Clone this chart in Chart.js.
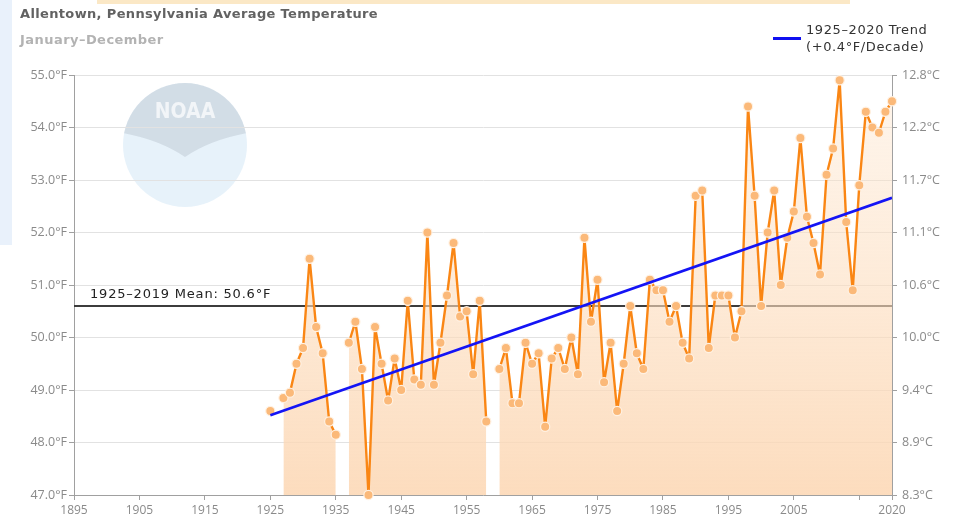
<!DOCTYPE html>
<html>
<head>
<meta charset="utf-8">
<script src="https://cdn.jsdelivr.net/npm/chart.js@4.4.1/dist/chart.umd.min.js"></script>
<style>
  html, body { margin:0; padding:0; background:#fff; }
  #wrap { position:relative; width:956px; height:524px; overflow:hidden; }
  #bluePanel { position:absolute; left:0; top:0; width:12px; height:245px; background:#e9f1fb; }
  #creamStrip { position:absolute; left:97px; top:0; width:753px; height:4px; background:#fbe8c6; }
  canvas { position:absolute; left:0; top:0; }
  .t { position:absolute; white-space:nowrap; font-family:"DejaVu Sans", sans-serif; }
  #title { left:20px; top:6px; font-size:13px; font-weight:bold; color:#626262; letter-spacing:0.35px; }
  #subtitle { left:20px; top:32px; font-size:13px; font-weight:bold; color:#b3b3b3; letter-spacing:0.45px; }
  #legLine { position:absolute; left:773px; top:37px; width:28px; height:3px; background:#1010f0; }
  #legText { left:806px; top:21px; font-size:13px; line-height:17px; color:#333; letter-spacing:0.6px; }
</style>
</head>
<body>
<div id="wrap">
  <div id="bluePanel"></div>
  <div id="creamStrip"></div>
  <canvas id="c" width="956" height="524"></canvas>
  <div class="t" id="title">Allentown, Pennsylvania Average Temperature</div>
  <div class="t" id="subtitle">January–December</div>
  <div id="legLine"></div>
  <div class="t" id="legText">1925–2020 Trend<br>(+0.4°F/Decade)</div>
</div>
<script>
// ---- data ----
const firstYear = 1925;
const tempF = [
  48.6, null, 48.85, 48.95, 49.5, 49.8, 51.5, 50.2, 49.7, 48.4,   // 1925-1934
  48.15, null, 49.9, 50.3, 49.4, 47.0, 50.2, 49.5, 48.8, 49.6,    // 1935-1944
  49.0, 50.7, 49.2, 49.1, 52.0, 49.1, 49.9, 50.8, 51.8, 50.4,     // 1945-1954
  50.5, 49.3, 50.7, 48.4, null, 49.4, 49.8, 48.75, 48.75, 49.9,   // 1955-1964
  49.5, 49.7, 48.3, 49.6, 49.8, 49.4, 50.0, 49.3, 51.9, 50.3,     // 1965-1974
  51.1, 49.15, 49.9, 48.6, 49.5, 50.6, 49.7, 49.4, 51.1, 50.9,    // 1975-1984
  50.9, 50.3, 50.6, 49.9, 49.6, 52.7, 52.8, 49.8, 50.8, 50.8,     // 1985-1994
  50.8, 50.0, 50.5, 54.4, 52.7, 50.6, 52.0, 52.8, 51.0, 51.9,     // 1995-2004
  52.4, 53.8, 52.3, 51.8, 51.2, 53.1, 53.6, 54.9, 52.2, 50.9,     // 2005-2014
  52.9, 54.3, 54.0, 53.9, 54.3, 54.5                              // 2015-2020
];
const years = tempF.map((_, i) => firstYear + i);
const trendYears = [1925, 2020];
const trendValues = [48.52, 52.66];
const meanYears = [1895, 2020];
const meanValue = 50.6;
const meanLabel = "1925–2019 Mean: 50.6°F";
const xTickValues = [1895, 1905, 1915, 1925, 1935, 1945, 1955, 1965, 1975, 1985, 1995, 2005, 2015, 2020];
const xHiddenLabels = [2015];
const yMin = 47, yMax = 55;

const tempPoints = years.map((y, i) => ({x: y, y: tempF[i]}));
const trendPoints = trendYears.map((y, i) => ({x: y, y: trendValues[i]}));
const meanPoints = meanYears.map(y => ({x: y, y: meanValue}));

const decorPlugin = {
  id: 'decor',
  beforeDraw(chart) {
    const c = chart.ctx;
    // faint NOAA watermark
    const cx = 185, cy = 145, r = 62;
    c.save();
    c.globalAlpha = 0.45;
    c.beginPath(); c.arc(cx, cy, r, 0, Math.PI * 2); c.fillStyle = '#c9e2f4'; c.fill();
    c.clip();
    c.beginPath();
    c.moveTo(cx - r, cy - r);
    c.lineTo(cx + r, cy - r);
    c.lineTo(cx + r, cy - 12);
    c.quadraticCurveTo(cx + 25, cy - 5, cx, cy + 12);
    c.quadraticCurveTo(cx - 25, cy - 5, cx - r, cy - 12);
    c.closePath();
    c.fillStyle = '#b9c3cf'; c.fill();
    c.globalAlpha = 0.7;
    c.fillStyle = '#ffffff';
    c.font = 'bold 21px "DejaVu Sans Condensed", sans-serif';
    c.textAlign = 'center'; c.textBaseline = 'middle';
    c.fillText('NOAA', cx, cy - 32);
    c.restore();
  },
  afterDatasetsDraw(chart) {
    const c = chart.ctx;
    const ys = chart.scales.y;
    const py = ys.getPixelForValue(meanValue);
    c.save();
    c.font = '13px "DejaVu Sans", sans-serif';
    if ('letterSpacing' in c) c.letterSpacing = '0.8px';
    c.fillStyle = '#222';
    c.textAlign = 'left'; c.textBaseline = 'alphabetic';
    c.fillText(meanLabel, chart.chartArea.left + 16, py - 8);
    c.restore();
  }
};

new Chart(document.getElementById('c'), {
  type: 'line',
  data: {
    datasets: [
      {
        label: '1925–2020 Trend',
        data: trendPoints,
        borderColor: '#1414f5',
        borderWidth: 2.6,
        pointRadius: 0,
        fill: false,
        order: 0
      },
      {
        label: 'Average Temperature',
        data: tempPoints,
        borderColor: '#fa8614',
        borderWidth: 2.4,
        borderJoinStyle: 'round',
        borderCapStyle: 'round',
        pointRadius: 4.6,
        pointBackgroundColor: '#fbb979',
        pointBorderColor: '#fff1e2',
        pointBorderWidth: 1.2,
        spanGaps: false,
        clip: false,
        fill: 'start',
        backgroundColor: (ctx) => {
          const area = ctx.chart.chartArea;
          if (!area) return 'rgba(252,214,178,0.7)';
          const g = ctx.chart.ctx.createLinearGradient(0, area.top, 0, area.bottom);
          g.addColorStop(0, 'rgba(253,228,202,0.35)');
          g.addColorStop(1, 'rgba(252,214,178,0.85)');
          return g;
        },
        order: 1
      },
      {
        label: 'Mean',
        data: meanPoints,
        borderColor: '#3c3c3c',
        borderWidth: 2,
        pointRadius: 0,
        fill: false,
        order: 2
      }
    ]
  },
  plugins: [decorPlugin],
  options: {
    responsive: false,
    animation: false,
    events: [],
    layout: { padding: { top: 75, left: 0, right: 0, bottom: 0 } },
    plugins: { legend: { display: false }, tooltip: { enabled: false }, title: { display: false } },
    scales: {
      x: {
        type: 'linear',
        min: 1895, max: 2020,
        afterBuildTicks: (s) => { s.ticks = xTickValues.map(v => ({value: v})); },
        afterFit: (s) => { s.height = 29; },
        ticks: {
          autoSkip: false, maxRotation: 0, padding: 3,
          color: '#8a8a8a',
          font: { family: '"Open Sans", sans-serif', size: 12 },
          callback: (v) => xHiddenLabels.includes(v) ? '' : String(v)
        },
        grid: { drawOnChartArea: false, drawTicks: true, tickLength: 5, tickColor: '#a0a0a0' },
        border: { display: true, color: '#a0a0a0', width: 1 }
      },
      y: {
        position: 'left',
        min: yMin, max: yMax,
        afterFit: (s) => { s.width = 74; },
        ticks: {
          stepSize: 1, padding: 2,
          color: '#8a8a8a',
          font: { family: '"Open Sans", sans-serif', size: 12.5 },
          callback: (v) => v.toFixed(1) + '°F'
        },
        grid: { color: '#e2e2e2', tickColor: '#a0a0a0', tickLength: 5 },
        border: { display: true, color: '#a0a0a0', width: 1 }
      },
      y2: {
        position: 'right',
        min: yMin, max: yMax,
        afterFit: (s) => { s.width = 64; },
        ticks: {
          stepSize: 1, padding: 5,
          color: '#8a8a8a',
          font: { family: '"Open Sans", sans-serif', size: 12.5 },
          callback: (v) => ((v - 32) * 5 / 9).toFixed(1) + '°C'
        },
        grid: { drawOnChartArea: false, tickColor: '#a0a0a0', tickLength: 5 },
        border: { display: true, color: '#a0a0a0', width: 1 }
      }
    }
  }
});
</script>
</body>
</html>
